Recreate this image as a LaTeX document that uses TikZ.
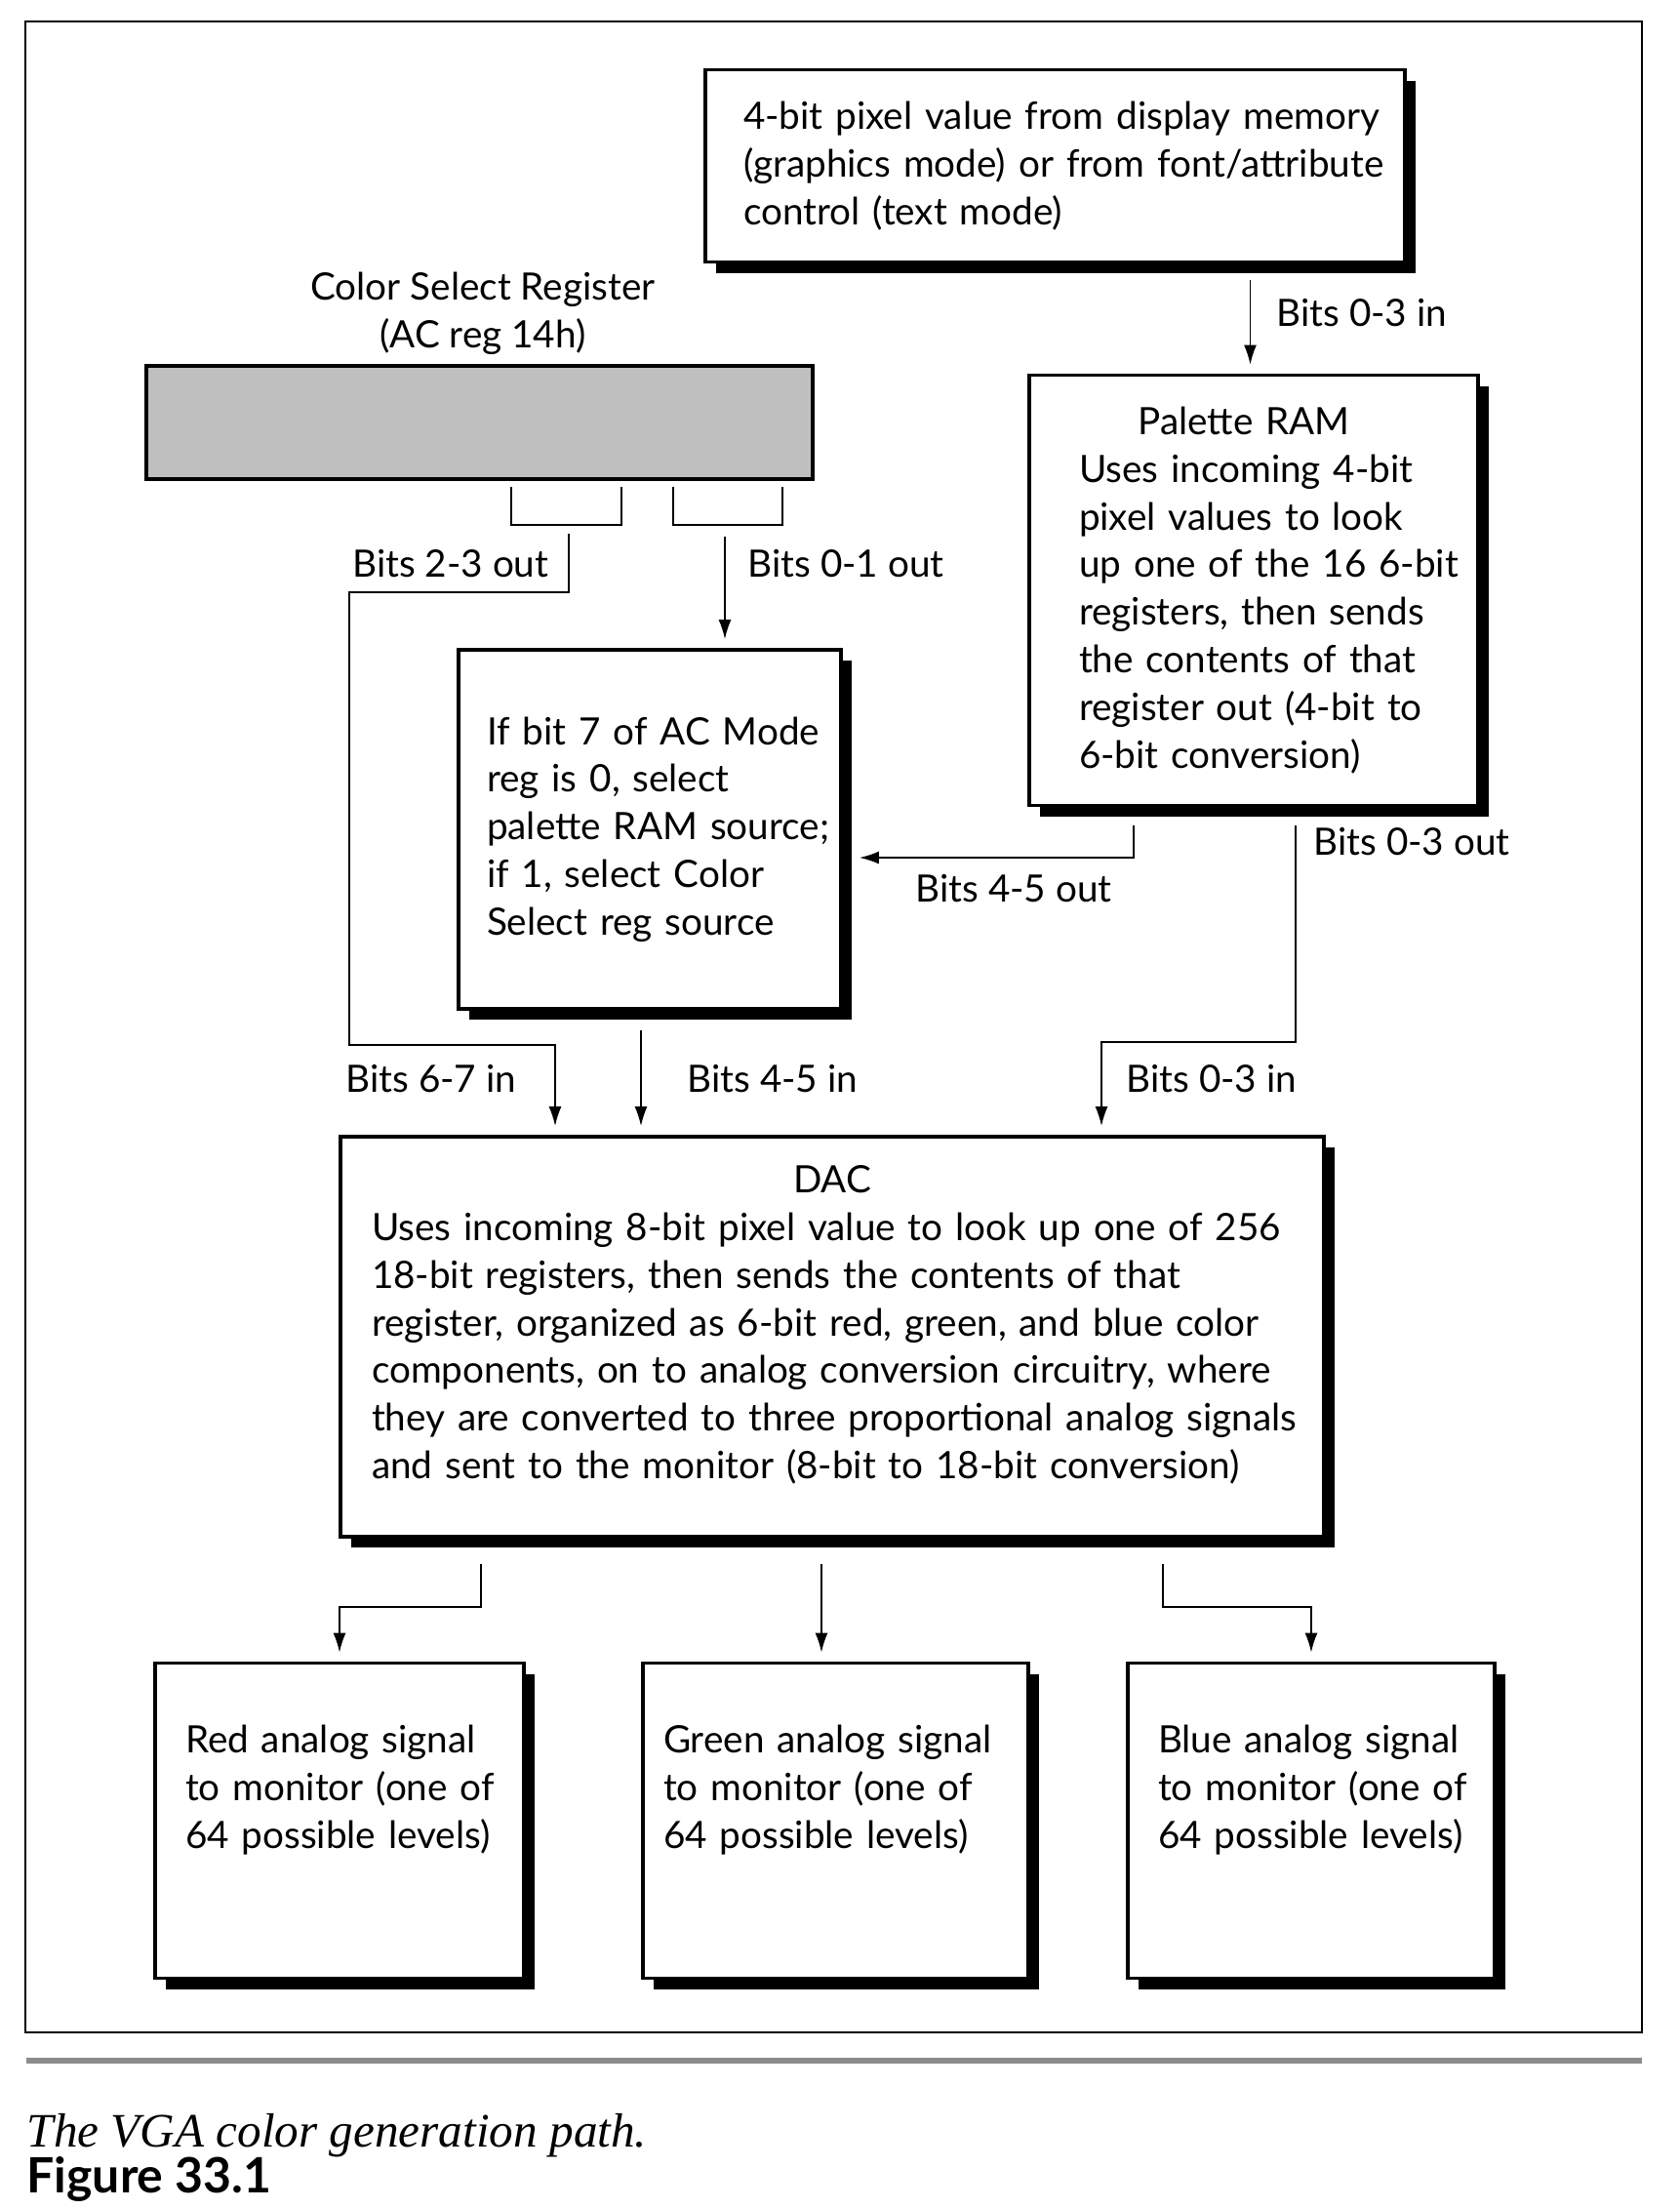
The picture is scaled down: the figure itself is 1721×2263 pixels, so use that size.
\documentclass[tikz,border=0pt]{standalone}
\usepackage{fontspec}
\setmainfont{Lato}
\newfontfamily\capfont{Liberation Serif}
\usetikzlibrary{arrows.meta,shadows}

\tikzset{
  box/.style={draw, line width=1.1pt, fill=white, inner sep=0pt, align=left,
    general shadow={fill=black, shadow xshift=1.1mm, shadow yshift=-1.1mm},
    font=\fontsize{11}{13.9}\selectfont,
    execute at begin node={\rightskip=-3cm plus 1fil\relax}},
  wire/.style={line width=.5pt, -{Latex[length=2mm,width=1.3mm]}, shorten >=.9mm},
  tag/.style={inner sep=0pt, font=\fontsize{11}{13.9}\selectfont},
}

\begin{document}
\begin{tikzpicture}[x=.1mm,y=-.1mm]
\fill[white] (0,0) rectangle (1721,2263);
\draw[line width=.8pt] (26,22) rectangle (1683,2083);

\node[box, minimum width=71.7mm, minimum height=19.7mm, text width=63.9mm] (pixel) at (1081.5,170)
  {4-bit pixel value from display memory\\(graphics mode) or from font/attribute\\control (text mode)};

\node[box, minimum width=46mm, minimum height=44.1mm, text width=35.8mm] (palette) at (1285,605)
  {\makebox[\linewidth][c]{Palette RAM\hspace{2mm}}\\Uses incoming 4-bit\\pixel values to look\\up one of the 16 6-bit\\registers, then sends\\the contents of that\\register out (4-bit to\\6-bit conversion)};

\node[draw, line width=1.1pt, fill=black!25, minimum width=68.3mm, minimum height=11.6mm] (csr) at (491.5,433) {};
\node[tag, align=center] (csrname) at (495,321) {Color Select Register\\(AC reg 14h)};

\node[box, minimum width=39.2mm, minimum height=36.8mm, text width=33.4mm] (select) at (666,850)
  {If bit 7 of AC Mode\\reg is 0, select\\palette RAM source;\\if 1, select Color\\Select reg source};

\node[box, minimum width=100.8mm, minimum height=41mm, text width=94.4mm] (dac) at (853,1370)
  {\makebox[\linewidth][c]{DAC}\\Uses incoming 8-bit pixel value to look up one of 256\\18-bit registers, then sends the contents of that\\register, organized as 6-bit red, green, and blue color\\components, on to analog conversion circuitry, where\\they are converted to three proportional analog signals\\and sent to the monitor (8-bit to 18-bit conversion)\rule[-3mm]{0pt}{0pt}};

\node[box, minimum width=37.8mm, minimum height=32.3mm, text width=31.6mm] (red) at (348,1866)
  {Red analog signal\\to monitor (one of\\64 possible levels)\rule[-7mm]{0pt}{0pt}};
\node[box, minimum width=39.5mm, minimum height=32.3mm, text width=35.3mm] (green) at (856.5,1866)
  {Green analog signal\\to monitor (one of\\64 possible levels)\rule[-7mm]{0pt}{0pt}};
\node[box, minimum width=37.6mm, minimum height=32.3mm, text width=31.4mm] (blue) at (1344,1866)
  {Blue analog signal\\to monitor (one of\\64 possible levels)\rule[-7mm]{0pt}{0pt}};

\draw[line width=.5pt] ([xshift=3.25mm,yshift=-.6mm]csr.south) |- ([xshift=14.55mm,yshift=-4.5mm]csr.south) -- ([xshift=14.55mm,yshift=-.6mm]csr.south);
\draw[line width=.5pt] ([xshift=19.85mm,yshift=-.6mm]csr.south) |- ([xshift=31.05mm,yshift=-4.5mm]csr.south) -- ([xshift=31.05mm,yshift=-.6mm]csr.south);

\coordinate (p03in) at ([xshift=20mm,yshift=-1.7mm]pixel.south);
\coordinate (c23) at ([xshift=9.15mm,yshift=-5.4mm]csr.south);
\coordinate (c67) at (569,1071);
\coordinate (c01) at ([xshift=25.15mm,yshift=-5.7mm]csr.south);
\coordinate (p45) at ([xshift=-12.3mm,yshift=-1.9mm]palette.south);
\coordinate (p03) at ([xshift=4.3mm,yshift=-1.9mm]palette.south);
\coordinate (d03) at (1129,1068);
\coordinate (s45) at ([xshift=-.9mm,yshift=-2mm]select.south);
\coordinate (dr) at ([xshift=-36mm,yshift=-2.6mm]dac.south);
\coordinate (dg) at ([xshift=-1.1mm,yshift=-2.6mm]dac.south);
\coordinate (db) at ([xshift=33.9mm,yshift=-2.6mm]dac.south);

\draw[wire] (p03in) -- (palette.north -| p03in);
\draw[wire] (c23) |- (358,607) |- (c67) -- (dac.north -| c67);
\draw[wire] (c01) -- (select.north -| c01);
\draw[wire, shorten >=1.7mm] (p45) |- ([yshift=-2.9mm]select.east);
\draw[wire] (p03) |- (d03) -- (dac.north -| d03);
\draw[wire] (s45) -- (dac.north -| s45);
\draw[wire] (dr) -- ++(0,44) -| (red.north);
\draw[wire] (dg) -- (green.north -| dg);
\draw[wire] (db) -- ++(0,44) -| (blue.north);

\node[tag, anchor=west] (l03in) at (1308,321) {Bits 0-3 in};
\node[tag, anchor=east] (l23out) at (563,578) {Bits 2-3 out};
\node[tag, anchor=west] (l01out) at (766,578) {Bits 0-1 out};
\node[tag, anchor=west] (l45out) at (938,911) {Bits 4-5 out};
\node[tag, anchor=west] (l03out) at (1346,863) {Bits 0-3 out};
\node[tag, anchor=west] (l67in) at (354,1106) {Bits 6-7 in};
\node[tag, anchor=west] (l45in) at (704,1106) {Bits 4-5 in};
\node[tag, anchor=west] (l03in2) at (1154,1106) {Bits 0-3 in};

\draw[line width=.6mm, black!45] (27,2112) -- (1683,2112);
\node[anchor=base west, inner sep=0pt, font=\capfont\itshape\fontsize{14}{16}\selectfont] (caption) at (27,2200) {The VGA color generation path.};
\node[anchor=base west, inner sep=0pt, font=\bfseries\fontsize{14.2}{16}\selectfont] (fignum) at (27,2247) {Figure 33.1};
\end{tikzpicture}
\end{document}
